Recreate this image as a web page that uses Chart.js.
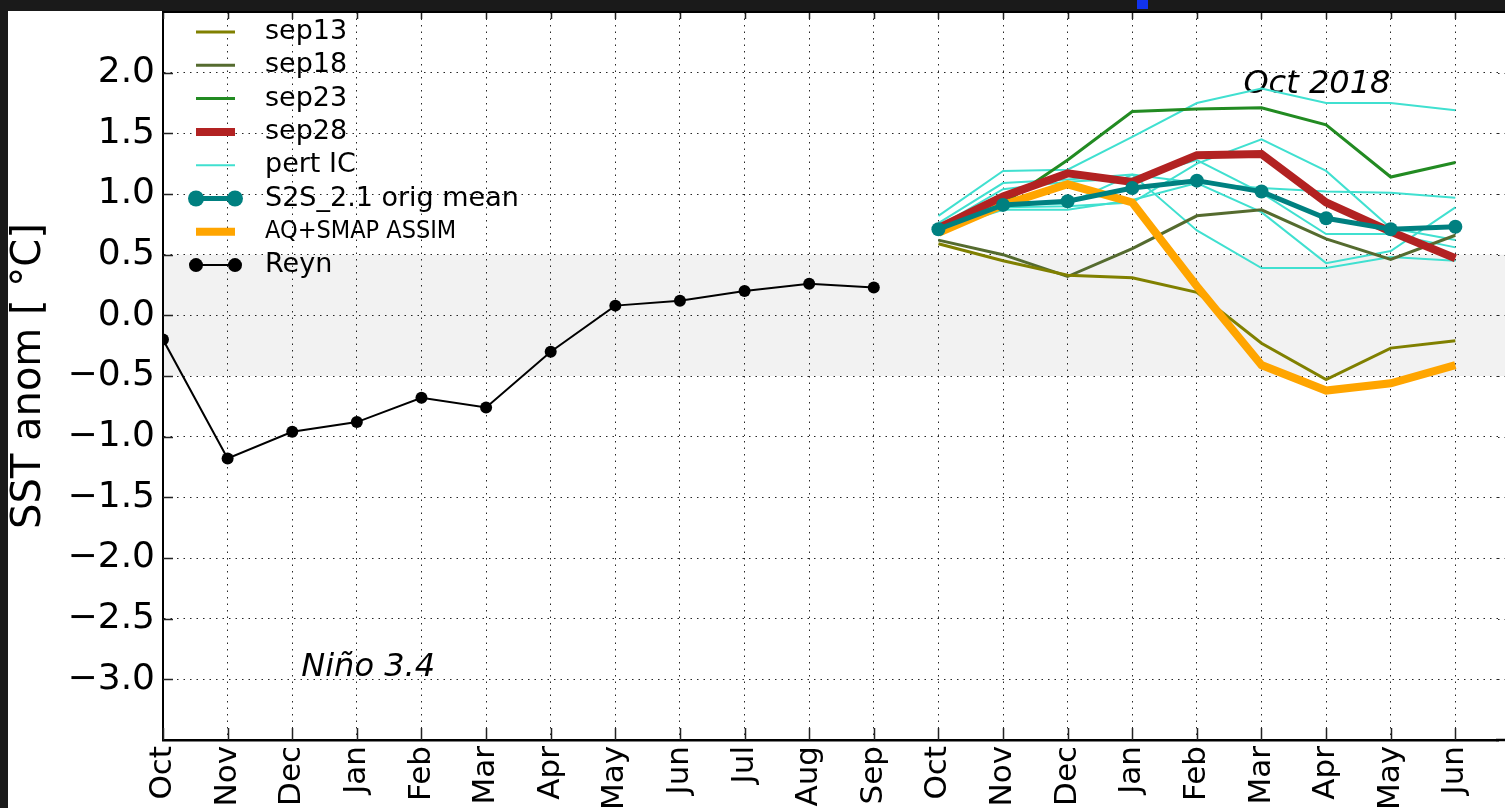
<!DOCTYPE html>
<html>
<head>
<meta charset="utf-8">
<title>Nino 3.4 SST anomaly</title>
<script src="https://cdn.jsdelivr.net/npm/chart.js@4.4.1/dist/chart.umd.min.js"></script>
<style>
	html, body { margin: 0; padding: 0; overflow: hidden; background: #fff; }
	#chart { display: block; }
</style>
</head>
<body>
<canvas id="chart" width="1505" height="808"></canvas>
<script>
'use strict';

// month ticks, observed Oct..Sep then forecast Oct..Jun
var months = [ 'Oct', 'Nov', 'Dec', 'Jan', 'Feb', 'Mar', 'Apr', 'May', 'Jun',
		'Jul', 'Aug', 'Sep', 'Oct', 'Nov', 'Dec', 'Jan', 'Feb', 'Mar', 'Apr',
		'May', 'Jun' ];
var yTicks = [ -3.0, -2.5, -2.0, -1.5, -1.0, -0.5, 0.0, 0.5, 1.0, 1.5, 2.0 ];

// observed (Reynolds) anomaly
var reyn = [ -0.20, -1.18, -0.96, -0.88, -0.68, -0.76, -0.30, 0.08, 0.12,
		0.20, 0.26, 0.23 ];

// forecasts start at the 13th month
var forecastStart = 12;
var sep13 = [ 0.59, 0.45, 0.33, 0.31, 0.19, -0.23, -0.53, -0.27, -0.21 ];
var sep18 = [ 0.62, 0.50, 0.32, 0.55, 0.82, 0.87, 0.63, 0.46, 0.66 ];
var sep23 = [ 0.68, 0.92, 1.28, 1.68, 1.70, 1.71, 1.57, 1.14, 1.26 ];
var sep28 = [ 0.72, 0.98, 1.17, 1.10, 1.32, 1.33, 0.93, 0.69, 0.47 ];
var s2sMean = [ 0.71, 0.91, 0.94, 1.05, 1.11, 1.02, 0.80, 0.71, 0.73 ];
var aqSmap = [ 0.68, 0.91, 1.08, 0.93, 0.24, -0.41, -0.62, -0.56, -0.41 ];
var pertIC = [
	[ 0.82, 1.19, 1.20, 1.47, 1.75, 1.87, 1.75, 1.75, 1.69 ],
	[ 0.72, 0.89, 0.90, 0.93, 1.25, 1.45, 1.19, 0.72, 0.62 ],
	[ 0.76, 1.09, 1.12, 1.16, 1.09, 1.05, 1.02, 1.01, 0.97 ],
	[ 0.73, 1.04, 1.10, 1.13, 1.28, 1.01, 0.67, 0.67, 0.56 ],
	[ 0.70, 0.87, 0.87, 0.95, 1.09, 0.85, 0.43, 0.53, 0.89 ],
	[ 0.74, 0.92, 0.92, 1.16, 0.70, 0.39, 0.39, 0.48, 0.45 ] ];

function toPoints(values, start) {
	return values.map(function(v, i) {
		return { x : start + i, y : v };
	});
}

function lineSet(label, values, start, color, width, order, radius) {
	return {
		label : label,
		data : toPoints(values, start),
		borderColor : color,
		backgroundColor : color,
		borderWidth : width,
		pointRadius : radius || 0,
		pointHoverRadius : radius || 0,
		pointBorderWidth : 0,
		tension : 0,
		fill : false,
		order : order
	};
}

var datasets = [];
datasets.push(lineSet('sep13', sep13, forecastStart, '#808000', 3, 5));
datasets.push(lineSet('sep18', sep18, forecastStart, '#556B2F', 3, 5));
datasets.push(lineSet('sep23', sep23, forecastStart, '#228B22', 3, 5));
datasets.push(lineSet('sep28', sep28, forecastStart, '#B22222', 8, 3));
pertIC.forEach(function(p, i) {
	datasets.push(lineSet(i == 0 ? 'pert IC' : '', p, forecastStart,
			'#40E0D0', 2, 6));
});
datasets.push(lineSet('S2S_2.1 orig mean', s2sMean, forecastStart,
		'#008080', 5, 2, 7));
var aqSet = lineSet('AQ+SMAP ASSIM', aqSmap, forecastStart, '#FFA500', 8, 4);
aqSet.legendFont = '25px "DejaVu Sans Condensed", "DejaVu Sans", sans-serif';
datasets.push(aqSet);
datasets.push(lineSet('Reyn', reyn, 0, '#000000', 2, 1, 6));

function fmtY(v) {
	var s = Math.abs(v).toFixed(1);
	return v < -1e-9 ? '\u2212' + s : s;
}

// background, dark screen edges and the grey neutral band
var backgroundPlugin = {
	id : 'background',
	beforeDraw : function(chart) {
		var ctx = chart.ctx, a = chart.chartArea, y = chart.scales.y;
		ctx.save();
		ctx.fillStyle = '#ffffff';
		ctx.fillRect(0, 0, chart.width, chart.height);
		ctx.fillRect(a.right - 2, 11, chart.width - a.right + 2,
				chart.height - 11);
		ctx.fillStyle = '#1a1a1a';
		ctx.fillRect(0, 0, chart.width, 11);
		ctx.fillRect(0, 0, 8, chart.height);
		ctx.fillStyle = '#1133ee';
		ctx.fillRect(1137, 0, 11, 9);
		ctx.fillStyle = '#f2f2f2';
		var top = y.getPixelForValue(0.5), bot = y.getPixelForValue(-0.5);
		ctx.fillRect(a.left, top, chart.width - a.left, bot - top);
		ctx.restore();
	}
};

// inward tick marks, frame lines, y title and text labels
var framePlugin = {
	id : 'frame',
	beforeDatasetsDraw : function(chart) {
		var ctx = chart.ctx, a = chart.chartArea;
		var xs = chart.scales.x, ys = chart.scales.y;
		ctx.save();
		// carry the dotted grid and axes to the canvas edge
		ctx.strokeStyle = 'rgba(0,0,0,0.85)';
		ctx.lineWidth = 1;
		ctx.setLineDash([ 1.5, 5 ]);
		ctx.beginPath();
		yTicks.forEach(function(v) {
			var py = Math.round(ys.getPixelForValue(v)) + 0.5;
			ctx.moveTo(a.right, py);
			ctx.lineTo(chart.width, py);
		});
		ctx.stroke();
		ctx.setLineDash([]);
		ctx.strokeStyle = '#222';
		ctx.lineWidth = 1.5;
		ctx.beginPath();
		months.forEach(function(m, i) {
			var px = Math.round(xs.getPixelForValue(i)) + 0.5;
			ctx.moveTo(px, a.bottom);
			ctx.lineTo(px, a.bottom - 12);
			ctx.moveTo(px, a.top);
			ctx.lineTo(px, a.top + 7);
		});
		yTicks.forEach(function(v) {
			var py = Math.round(ys.getPixelForValue(v)) + 0.5;
			ctx.moveTo(a.left, py);
			ctx.lineTo(a.left + 10, py);
		});
		ctx.stroke();
		ctx.strokeStyle = '#000';
		ctx.lineWidth = 2;
		ctx.beginPath();
		ctx.moveTo(a.left, a.top);
		ctx.lineTo(chart.width, a.top);
		ctx.stroke();
		ctx.lineWidth = 2.5;
		ctx.beginPath();
		ctx.moveTo(a.right - 2, a.bottom);
		ctx.lineTo(chart.width, a.bottom);
		ctx.stroke();

		ctx.fillStyle = '#000';
		ctx.font = '40px "DejaVu Sans", sans-serif';
		ctx.textAlign = 'center';
		ctx.textBaseline = 'middle';
		ctx.translate(30, (a.top + a.bottom) / 2);
		ctx.rotate(-Math.PI / 2);
		ctx.fillText('SST anom [ \u00b0C]', 0, 0);
		ctx.restore();

		ctx.save();
		ctx.fillStyle = '#000';
		ctx.font = 'italic 32px "DejaVu Sans", sans-serif';
		ctx.textAlign = 'left';
		ctx.textBaseline = 'alphabetic';
		ctx.fillText('Oct 2018', xs.getPixelForValue(16.72), ys
				.getPixelForValue(1.83));
		ctx.fillText('Ni\u00f1o 3.4', xs.getPixelForValue(2.14), ys
				.getPixelForValue(-2.975));
		ctx.restore();
	},
	afterDatasetsDraw : function(chart) {
		// matplotlib style legend, line samples with end markers
		var ctx = chart.ctx, a = chart.chartArea;
		var x0 = a.left + 33, x1 = a.left + 72, tx = a.left + 102;
		var row = 0;
		ctx.save();
		chart.data.datasets.forEach(function(ds) {
			if (!ds.label) {
				return;
			}
			var y = a.top + 20 + row * 33.3;
			ctx.strokeStyle = ds.borderColor;
			ctx.lineWidth = ds.borderWidth;
			ctx.lineCap = 'butt';
			ctx.beginPath();
			ctx.moveTo(x0, y);
			ctx.lineTo(x1, y);
			ctx.stroke();
			if (ds.pointRadius > 0) {
				ctx.fillStyle = ds.borderColor;
				[ x0, x1 ].forEach(function(px) {
					ctx.beginPath();
					ctx.arc(px, y, ds.pointRadius + 1, 0, Math.PI * 2);
					ctx.fill();
				});
			}
			ctx.fillStyle = '#000';
			ctx.font = ds.legendFont || '27px "DejaVu Sans", sans-serif';
			ctx.textAlign = 'left';
			ctx.textBaseline = 'middle';
			ctx.fillText(ds.label, tx, y);
			row++;
		});
		ctx.restore();
	}
};

var gridStyle = {
	color : 'rgba(0,0,0,0.85)',
	lineWidth : 1,
	drawTicks : false
};

new Chart(document.getElementById('chart'), {
	type : 'line',
	data : {
		datasets : datasets
	},
	plugins : [ backgroundPlugin, framePlugin ],
	options : {
		responsive : false,
		animation : false,
		layout : {
			padding : {
				top : 12,
				left : 0,
				right : 0,
				bottom : 0
			}
		},
		plugins : {
			legend : {
				display : false
			},
			tooltip : {
				enabled : false
			}
		},
		scales : {
			x : {
				type : 'linear',
				min : 0,
				max : 20.66,
				grid : gridStyle,
				border : {
					display : true,
					color : '#000',
					width : 2.5,
					dash : [ 1.5, 5 ]
				},
				afterBuildTicks : function(scale) {
					scale.ticks = months.map(function(m, i) {
						return { value : i };
					});
				},
				afterFit : function(scale) {
					scale.height = 68;
					scale.paddingLeft = 0;
					scale.paddingRight = 0;
				},
				ticks : {
					autoSkip : false,
					maxRotation : 90,
					minRotation : 90,
					padding : 6,
					color : '#000',
					font : {
						family : '"DejaVu Sans", sans-serif',
						size : 31
					},
					callback : function(v) {
						return months[v];
					}
				}
			},
			y : {
				min : -3.5,
				max : 2.5,
				grid : gridStyle,
				border : {
					display : true,
					color : '#000',
					width : 2,
					dash : [ 1.5, 5 ]
				},
				afterBuildTicks : function(scale) {
					scale.ticks = yTicks.map(function(v) {
						return { value : v };
					});
				},
				afterFit : function(scale) {
					scale.width = 163;
					scale.paddingTop = 0;
					scale.paddingBottom = 0;
				},
				ticks : {
					padding : 8,
					color : '#000',
					font : {
						family : '"DejaVu Sans", sans-serif',
						size : 36
					},
					callback : function(v) {
						return fmtY(v);
					}
				}
			}
		}
	}
});
</script>
</body>
</html>
